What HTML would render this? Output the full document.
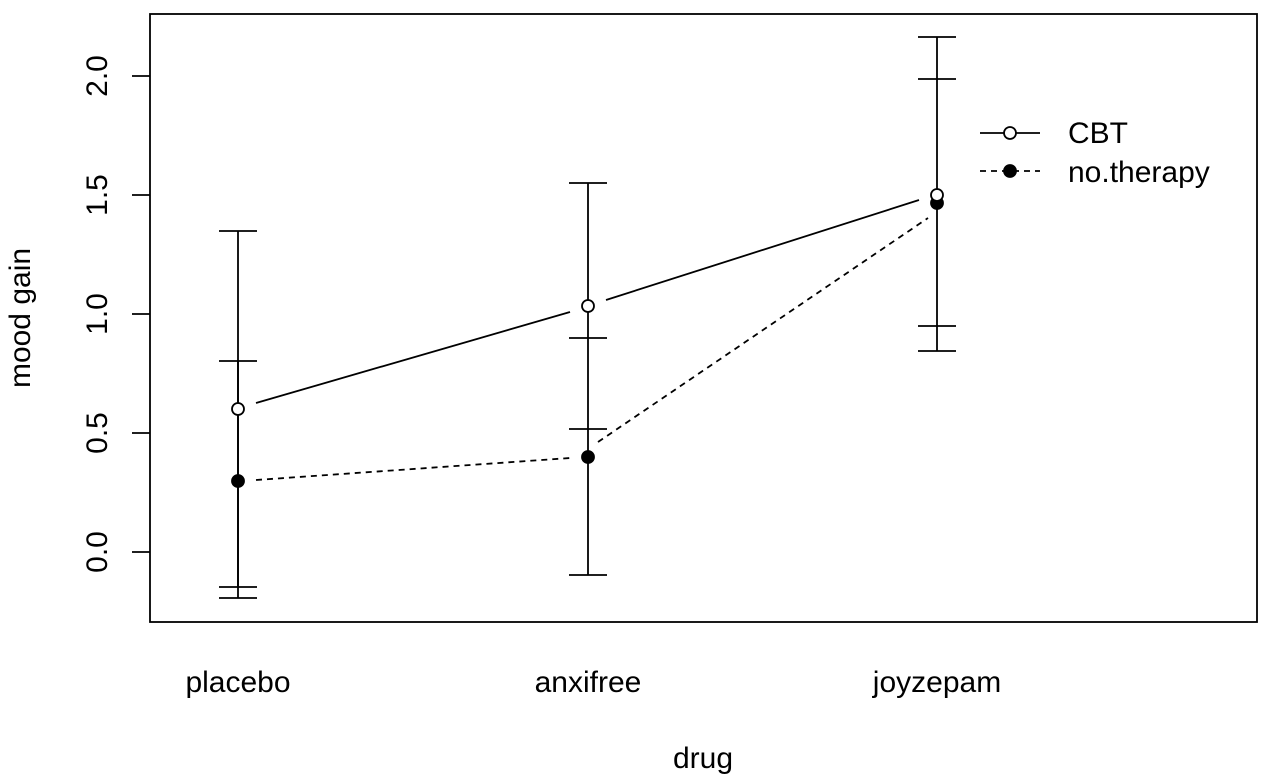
<!DOCTYPE html>
<html><head><style>body{margin:0;background:#fff}svg{display:block}text{font-family:"Liberation Sans",Arial,sans-serif;fill:#000}</style></head>
<body>
<svg width="1270" height="783" viewBox="0 0 1270 783" xmlns="http://www.w3.org/2000/svg">
<rect x="150" y="14" width="1107" height="608" fill="none" stroke="#000" stroke-width="1.8"/>
<g stroke="#000" stroke-width="1.8">
<line x1="132" y1="552" x2="150" y2="552"/><line x1="132" y1="433" x2="150" y2="433"/><line x1="132" y1="314" x2="150" y2="314"/><line x1="132" y1="195" x2="150" y2="195"/><line x1="132" y1="76" x2="150" y2="76"/>
</g>
<g font-size="30" text-anchor="middle">
<text transform="translate(107,552) rotate(-90)">0.0</text>
<text transform="translate(107,433) rotate(-90)">0.5</text>
<text transform="translate(107,314) rotate(-90)">1.0</text>
<text transform="translate(107,195) rotate(-90)">1.5</text>
<text transform="translate(107,76) rotate(-90)">2.0</text>
<text transform="translate(30,318) rotate(-90)">mood gain</text>
<text x="238" y="692">placebo</text>
<text x="588" y="692">anxifree</text>
<text x="937" y="692">joyzepam</text>
<text x="703" y="768">drug</text>
</g>
<g stroke="#000" stroke-width="1.8" fill="none">
<line x1="238" y1="231" x2="238" y2="587"/><line x1="219" y1="231" x2="257" y2="231"/><line x1="219" y1="587" x2="257" y2="587"/>
<line x1="238" y1="361" x2="238" y2="598"/><line x1="219" y1="361" x2="257" y2="361"/><line x1="219" y1="598" x2="257" y2="598"/>
<line x1="588" y1="183" x2="588" y2="575"/><line x1="569" y1="183" x2="607" y2="183"/><line x1="569" y1="429" x2="607" y2="429"/>
<line x1="569" y1="338" x2="607" y2="338"/><line x1="569" y1="575" x2="607" y2="575"/>
<line x1="937" y1="37" x2="937" y2="351"/><line x1="918" y1="37" x2="956" y2="37"/><line x1="918" y1="351" x2="956" y2="351"/>
<line x1="918" y1="79" x2="956" y2="79"/><line x1="918" y1="326" x2="956" y2="326"/>
<polyline points="256,403 570,312"/><polyline points="606,300 919,200"/>
<polyline points="256,480 570,458" stroke-dasharray="6,5"/><polyline points="598,442 928,218" stroke-dasharray="6,5"/>
<line x1="980" y1="133" x2="1040" y2="133"/>
<line x1="980" y1="171" x2="1040" y2="171" stroke-dasharray="6,5"/>
</g>
<g stroke="#000" stroke-width="1.8">
<circle cx="238" cy="481" r="6" fill="#000"/><circle cx="588" cy="457" r="6" fill="#000"/><circle cx="937" cy="203" r="6" fill="#000"/>
<circle cx="238" cy="409" r="6" fill="#fff"/><circle cx="588" cy="306" r="6" fill="#fff"/><circle cx="937" cy="195" r="6" fill="#fff"/>
<circle cx="1010" cy="133" r="6" fill="#fff"/><circle cx="1010" cy="171" r="6" fill="#000"/>
</g>
<text x="1068" y="143" font-size="30">CBT</text>
<text x="1068" y="182" font-size="30">no.therapy</text>
</svg>
</body></html>
